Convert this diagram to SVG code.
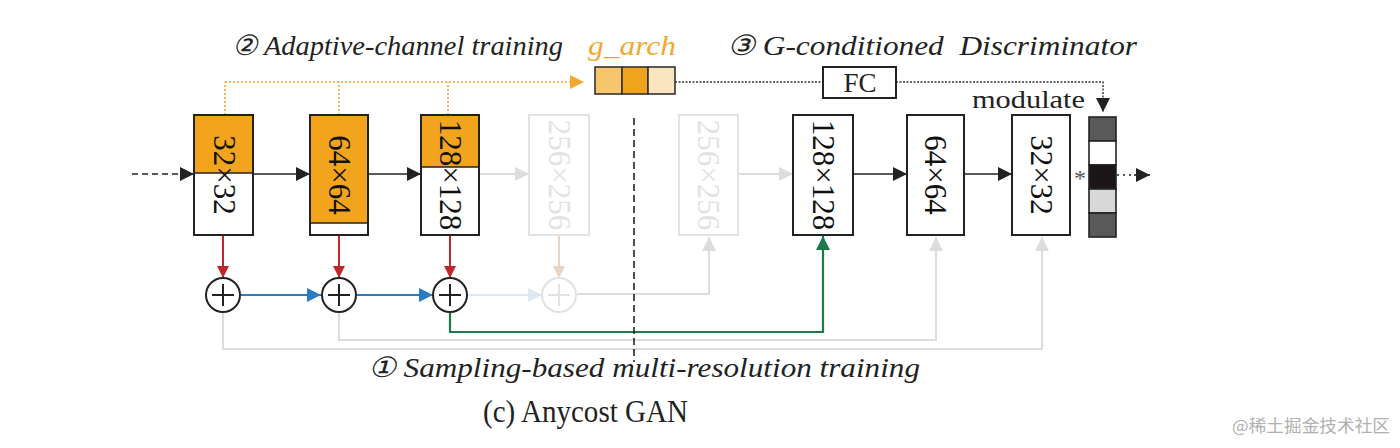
<svg xmlns="http://www.w3.org/2000/svg" width="1400" height="448" viewBox="0 0 1400 448">
<style>
.box{fill:#fff;stroke:#222;stroke-width:2}
.ghost{fill:#fff;stroke:#e2e2e2;stroke-width:2}
.or{fill:#f2a51c}
.bt{font-family:"Liberation Serif",serif;font-size:31px;fill:#111;text-anchor:middle;dominant-baseline:central}
.gt{fill:#e2e2e2}
.it{font-family:"Liberation Serif",serif;font-style:italic;font-size:28px;fill:#222}
.rm{font-family:"Liberation Serif",serif;font-size:26px;fill:#222}
.k{stroke:#222;stroke-width:1.6;fill:none}
.g{stroke:#dcdcdc;stroke-width:2;fill:none}
.red{stroke:#c0272d;stroke-width:2;fill:none}
.blue{stroke:#2b7dc3;stroke-width:2;fill:none}
.grn{stroke:#1d7a48;stroke-width:2.2;fill:none}
.odot{stroke:#f0a830;stroke-width:1.6;stroke-dasharray:2 2;fill:none}
.kdot{stroke:#333;stroke-width:1.4;stroke-dasharray:2 1.5;fill:none}
.circ{fill:#fff;stroke:#222;stroke-width:2}
</style>
<defs>
<marker id="akb" viewBox="0 0 10 10" refX="10" refY="5" markerWidth="14" markerHeight="14" markerUnits="userSpaceOnUse" orient="auto"><path d="M0,0L10,5L0,10z" fill="#222"/></marker>
<marker id="ag" viewBox="0 0 10 10" refX="10" refY="5" markerWidth="14" markerHeight="14" markerUnits="userSpaceOnUse" orient="auto"><path d="M0,0L10,5L0,10z" fill="#dcdcdc"/></marker>
<marker id="ar" viewBox="0 0 10 10" refX="10" refY="5" markerWidth="12" markerHeight="12" markerUnits="userSpaceOnUse" orient="auto"><path d="M0,0L10,5L0,10z" fill="#c0272d"/></marker>
<marker id="arg" viewBox="0 0 10 10" refX="10" refY="5" markerWidth="12" markerHeight="12" markerUnits="userSpaceOnUse" orient="auto"><path d="M0,0L10,5L0,10z" fill="#ead2c4"/></marker>
<marker id="ab" viewBox="0 0 10 10" refX="10" refY="5" markerWidth="14" markerHeight="14" markerUnits="userSpaceOnUse" orient="auto"><path d="M0,0L10,5L0,10z" fill="#2b7dc3"/></marker>
<marker id="abg" viewBox="0 0 10 10" refX="10" refY="5" markerWidth="14" markerHeight="14" markerUnits="userSpaceOnUse" orient="auto"><path d="M0,0L10,5L0,10z" fill="#dfe7ef"/></marker>
<marker id="agr" viewBox="0 0 10 10" refX="10" refY="5" markerWidth="14" markerHeight="14" markerUnits="userSpaceOnUse" orient="auto"><path d="M0,0L10,5L0,10z" fill="#1d7a48"/></marker>
<marker id="ao" viewBox="0 0 10 10" refX="10" refY="5" markerWidth="14" markerHeight="14" markerUnits="userSpaceOnUse" orient="auto"><path d="M0,0L10,5L0,10z" fill="#f0a830"/></marker>
</defs>
<rect width="1400" height="448" fill="#fff"/>

<!-- titles -->
<text class="it" x="232" y="55" textLength="331" lengthAdjust="spacingAndGlyphs">② Adaptive-channel training</text>
<text class="it" x="588" y="55" style="fill:#f0a830" textLength="88" lengthAdjust="spacingAndGlyphs">g_arch</text>
<text class="it" x="727" y="55" textLength="410" lengthAdjust="spacingAndGlyphs" style="white-space:pre">③ G-conditioned  Discriminator</text>
<text class="it" x="368" y="377" textLength="552" lengthAdjust="spacingAndGlyphs">① Sampling-based multi-resolution training</text>
<text class="rm" x="483" y="422" style="font-size:31px" textLength="205" lengthAdjust="spacingAndGlyphs">(c) Anycost GAN</text>
<text x="1232" y="432" style="font-family:'Noto Sans CJK SC','Noto Sans',sans-serif;font-size:17px;fill:#b0b0b0" textLength="158" lengthAdjust="spacingAndGlyphs">@稀土掘金技术社区</text>

<!-- connectors -->
<g id="connectors">
<path class="odot" d="M225,115V82M339,115V82M448,115V82M225,82H584" marker-end="url(#ao)"/>
<path class="kdot" d="M675,82H823"/>
<path class="kdot" d="M896,82H1103V112" marker-end="url(#akb)"/>
<path class="k" d="M132,174H194" stroke-dasharray="6 4" marker-end="url(#akb)"/>
<path class="k" d="M253,174H310" marker-end="url(#akb)"/>
<path class="k" d="M368,174H421" marker-end="url(#akb)"/>
<path class="g" d="M479,174H529" marker-end="url(#ag)"/>
<path class="g" d="M738,174H793" marker-end="url(#ag)"/>
<path class="k" d="M853,174H907" marker-end="url(#akb)"/>
<path class="k" d="M964,174H1012" marker-end="url(#akb)"/>
<path class="k" d="M1117,175H1134" stroke-dasharray="2 4"/>
<path class="k" d="M1134,175H1150" marker-end="url(#akb)"/>
<path class="red" d="M223,235V278" marker-end="url(#ar)"/>
<path class="red" d="M339,235V278" marker-end="url(#ar)"/>
<path class="red" d="M450,235V278" marker-end="url(#ar)"/>
<path d="M559,235V278" stroke="#ead2c4" stroke-width="2" fill="none" marker-end="url(#arg)"/>
<path class="blue" d="M241,295H321" marker-end="url(#ab)"/>
<path class="blue" d="M356,295H433" marker-end="url(#ab)"/>
<path d="M468,295H542" stroke="#dfe7ef" stroke-width="2" fill="none" marker-end="url(#abg)"/>
<path class="g" d="M577,294H709V237" marker-end="url(#ag)"/>
<path class="grn" d="M450,313V332H823V236" marker-end="url(#agr)"/>
<path class="g" d="M339,313V340H936V237" marker-end="url(#ag)"/>
<path class="g" d="M223,313V349H1042V237" marker-end="url(#ag)"/>
<path d="M634,118V362" stroke="#222" stroke-width="1.6" stroke-dasharray="7 4" fill="none"/>
</g>

<!-- generator blocks -->
<g id="g32">
<rect class="box" x="194" y="115" width="59" height="120"/>
<rect class="or" x="195" y="116" width="57" height="57"/>
<line x1="194" y1="173" x2="253" y2="173" stroke="#222" stroke-width="1.5"/>
<text class="bt" transform="translate(224,175) rotate(90)">32×32</text>
</g>
<g id="g64">
<rect class="box" x="310" y="115" width="58" height="120"/>
<rect class="or" x="311" y="116" width="56" height="107"/>
<line x1="310" y1="223" x2="368" y2="223" stroke="#222" stroke-width="1.5"/>
<text class="bt" transform="translate(339,175) rotate(90)">64×64</text>
</g>
<g id="g128">
<rect class="box" x="421" y="115" width="58" height="120"/>
<rect class="or" x="422" y="116" width="56" height="51"/>
<line x1="421" y1="167" x2="479" y2="167" stroke="#222" stroke-width="1.5"/>
<text class="bt" transform="translate(450,175) rotate(90)">128×128</text>
</g>
<g id="g256">
<rect class="ghost" x="529" y="115" width="60" height="120"/>
<text class="bt gt" transform="translate(559,175) rotate(90)">256×256</text>
</g>

<!-- adders -->
<g id="add1"><circle class="circ" cx="223" cy="295" r="17"/><path d="M212,295H234M223,284V306" stroke="#222" stroke-width="2"/></g>
<g id="add2"><circle class="circ" cx="339" cy="295" r="17"/><path d="M328,295H350M339,284V306" stroke="#222" stroke-width="2"/></g>
<g id="add3"><circle class="circ" cx="450" cy="295" r="17"/><path d="M439,295H461M450,284V306" stroke="#222" stroke-width="2"/></g>
<g id="add4"><circle cx="559" cy="295" r="17" fill="#fff" stroke="#e2e2e2" stroke-width="2"/><path d="M548,295H570M559,284V306" stroke="#e2e2e2" stroke-width="2"/></g>

<!-- g_arch -->
<g id="garch">
<rect x="595" y="67" width="27" height="27" fill="#f7c56c" stroke="#333" stroke-width="1.6"/>
<rect x="622" y="67" width="26" height="27" fill="#f0a31c" stroke="#333" stroke-width="1.6"/>
<rect x="648" y="67" width="27" height="27" fill="#fbe4c0" stroke="#333" stroke-width="1.6"/>
</g>
<g id="fc">
<rect class="box" x="823" y="67" width="73" height="31" stroke-width="1.8"/>
<text class="rm" x="860" y="92" text-anchor="middle" style="font-size:27px">FC</text>
</g>
<text class="rm" x="972" y="108" textLength="113" lengthAdjust="spacingAndGlyphs" style="font-size:25px">modulate</text>

<!-- discriminator blocks -->
<g id="d256">
<rect class="ghost" x="679" y="115" width="59" height="120"/>
<text class="bt gt" transform="translate(708.5,175) rotate(90)">256×256</text>
</g>
<g id="d128">
<rect class="box" x="793" y="115" width="60" height="120"/>
<text class="bt" transform="translate(823,175) rotate(90)">128×128</text>
</g>
<g id="d64">
<rect class="box" x="907" y="115" width="57" height="120"/>
<text class="bt" transform="translate(935.5,175) rotate(90)">64×64</text>
</g>
<g id="d32">
<rect class="box" x="1012" y="115" width="58" height="120"/>
<text class="bt" transform="translate(1041,175) rotate(90)">32×32</text>
</g>
<text x="1080" y="186" text-anchor="middle" style="font-family:'Liberation Serif',serif;font-size:24px;fill:#555">*</text>
<g id="feat" stroke="#222" stroke-width="1.6">
<rect x="1089" y="117" width="27" height="24" fill="#595959"/>
<rect x="1089" y="141" width="27" height="24" fill="#fff"/>
<rect x="1089" y="165" width="27" height="24" fill="#1c1616"/>
<rect x="1089" y="189" width="27" height="24" fill="#d8d8d8"/>
<rect x="1089" y="213" width="27" height="24" fill="#595959"/>
</g>
</svg>
